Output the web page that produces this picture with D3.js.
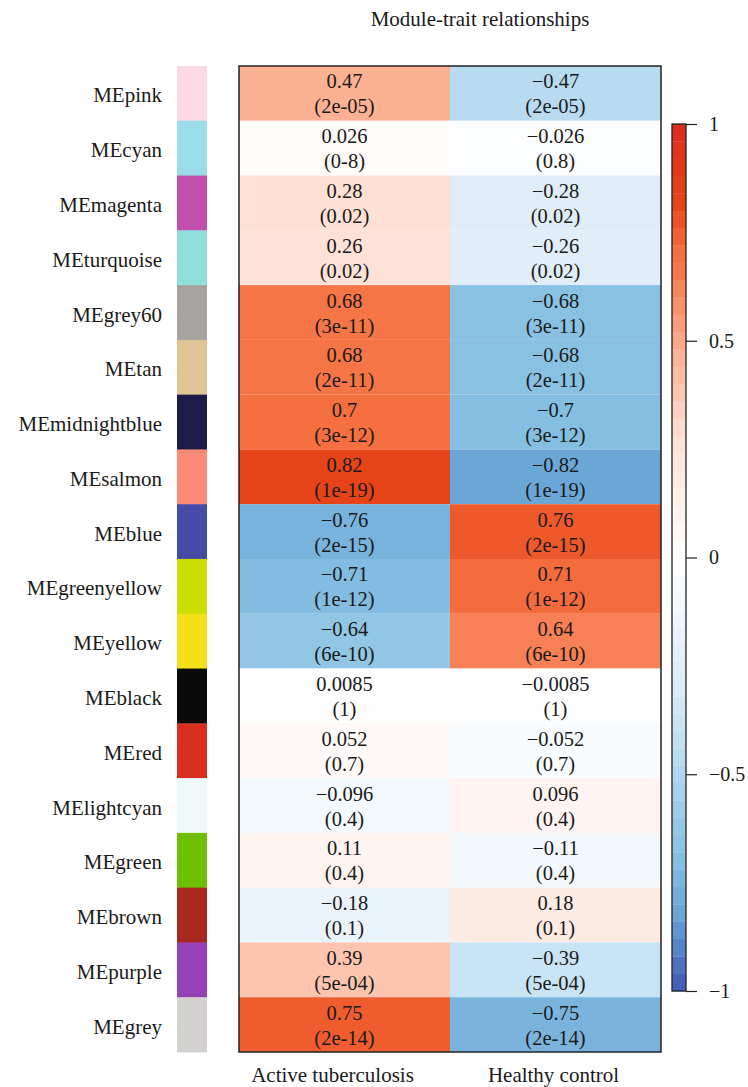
<!DOCTYPE html>
<html>
<head>
<meta charset="utf-8">
<script src="https://cdn.jsdelivr.net/npm/d3@7"></script>
<style>
  html, body { margin: 0; padding: 0; background: #fff; }
  svg { display: block; }
</style>
</head>
<body>
<svg id="chart" width="748" height="1087"></svg>
<script>
// ---------- data ----------
const modules = ["MEpink","MEcyan","MEmagenta","MEturquoise","MEgrey60","MEtan","MEmidnightblue","MEsalmon","MEblue","MEgreenyellow","MEyellow","MEblack","MEred","MElightcyan","MEgreen","MEbrown","MEpurple","MEgrey"];
const moduleColors = ["#FDD8E5","#9BDEEA","#C34FAC","#8FE0DC","#A7A3A0","#E2C595","#1D1B4A","#FB8A76","#474CA6","#CCDD00","#F4E01A","#0A0A0A","#D92D1F","#F0F9F9","#6DBF00","#A8271E","#9640B7","#D2D1CF"];
const traits = ["Active tuberculosis","Healthy control"];
const corActive  = [0.47, 0.026, 0.28, 0.26, 0.68, 0.68, 0.7, 0.82, -0.76, -0.71, -0.64, 0.0085, 0.052, -0.096, 0.11, -0.18, 0.39, 0.75];
const corHealthy = [-0.47, -0.026, -0.28, -0.26, -0.68, -0.68, -0.7, -0.82, 0.76, 0.71, 0.64, -0.0085, -0.052, 0.096, -0.11, 0.18, -0.39, -0.75];
const pActive  = ["2e-05","0-8","0.02","0.02","3e-11","2e-11","3e-12","1e-19","2e-15","1e-12","6e-10","1","0.7","0.4","0.4","0.1","5e-04","2e-14"];
const pHealthy = ["2e-05","0.8","0.02","0.02","3e-11","2e-11","3e-12","1e-19","2e-15","1e-12","6e-10","1","0.7","0.4","0.4","0.1","5e-04","2e-14"];
const legendTicks = [1, 0.5, 0, -0.5, -1];
const title = "Module-trait relationships";

// ---------- colour scale (blue-white-red) ----------
const colorStops = d3.scaleLinear()
  .domain([-1, -0.82, -0.7, -0.47, -0.28, 0, 0.28, 0.47, 0.7, 0.82, 1])
  .range(["#3F58B5","#6BA7D6","#84BEE1","#B8DBF0","#DEEDF8","#FFFFFF","#FEE0D5","#FDB193","#F56F40","#E64418","#DC2A1C"])
  .interpolate(d3.interpolateRgb)
  .clamp(true);
const nSteps = 50;
const binCenter = i => -1 + (i + 0.5) * 2 / nSteps;

// ---------- layout ----------
const svg = d3.select("#chart");
const FONT = "Liberation Serif";
const INK = "#1a1a1a";
const x = d3.scaleBand().domain(traits).range([239, 661]);
const y = d3.scaleBand().domain(modules).range([66, 1052]);

const cells = [];
modules.forEach((m, i) => {
  cells.push({m, t: traits[0], v: corActive[i], p: pActive[i]});
  cells.push({m, t: traits[1], v: corHealthy[i], p: pHealthy[i]});
});

const fmt = v => (v < 0 ? "\u2212" + String(Math.abs(v)) : String(v));
const serif = sel => sel.style("font-family", FONT).attr("fill", INK);

// heatmap cells
svg.append("g").selectAll("rect").data(cells).join("rect")
  .attr("x", d => x(d.t)).attr("y", d => y(d.m))
  .attr("width", x.bandwidth()).attr("height", y.bandwidth())
  .attr("fill", d => colorStops(d.v));

// cell text
const tg = svg.append("g");
tg.selectAll("text.v").data(cells).join("text").attr("class", "v")
  .attr("x", d => x(d.t) + x.bandwidth() / 2)
  .attr("y", d => y(d.m) + y.bandwidth() / 2 - 5)
  .attr("text-anchor", "middle").attr("font-size", 20.5)
  .call(serif)
  .text(d => fmt(d.v));
tg.selectAll("text.p").data(cells).join("text").attr("class", "p")
  .attr("x", d => x(d.t) + x.bandwidth() / 2)
  .attr("y", d => y(d.m) + y.bandwidth() / 2 + 20)
  .attr("text-anchor", "middle").attr("font-size", 20.5)
  .call(serif)
  .text(d => "(" + d.p + ")");

// heatmap border
svg.append("rect")
  .attr("x", x.range()[0]).attr("y", y.range()[0])
  .attr("width", x.range()[1] - x.range()[0]).attr("height", y.range()[1] - y.range()[0])
  .attr("fill", "none").attr("stroke", "#222").attr("stroke-width", 1.5);

// module colour swatches
svg.append("g").selectAll("rect").data(modules).join("rect")
  .attr("x", 177).attr("y", d => y(d))
  .attr("width", 30).attr("height", y.bandwidth() + 0.5)
  .attr("fill", (d, i) => moduleColors[i]);

// row labels
svg.append("g").selectAll("text").data(modules).join("text")
  .attr("x", 162).attr("y", d => y(d) + y.bandwidth() / 2 + 9)
  .attr("text-anchor", "end").attr("font-size", 21)
  .call(serif)
  .text(d => d);

// column labels
svg.append("g").selectAll("text").data(traits).join("text")
  .attr("x", (d, i) => x(d) + x.bandwidth() / 2 + (i === 0 ? -12 : -2))
  .attr("y", 1082)
  .attr("text-anchor", "middle").attr("font-size", 21)
  .call(serif)
  .text(d => d);

// title
svg.append("text").attr("x", 480).attr("y", 26).attr("text-anchor", "middle")
  .attr("font-size", 21).call(serif).text(title);

// ---------- legend colour bar ----------
const ly = d3.scaleLinear().domain([-1, 1]).range([991, 124]);
const lg = svg.append("g");
const bins = d3.range(nSteps);
lg.selectAll("rect").data(bins).join("rect")
  .attr("x", 672).attr("width", 14)
  .attr("y", i => ly(-1 + (i + 1) * 2 / nSteps))
  .attr("height", i => ly(-1 + i * 2 / nSteps) - ly(-1 + (i + 1) * 2 / nSteps) + 0.3)
  .attr("fill", i => colorStops(binCenter(i)));
lg.append("rect").attr("x", 672).attr("y", 124).attr("width", 14).attr("height", 867)
  .attr("fill", "none").attr("stroke", "#222").attr("stroke-width", 1.3);
const axis = d3.axisRight(ly).tickValues(legendTicks).tickSize(11).tickPadding(12)
  .tickFormat(d => d < 0 ? "\u2212" + Math.abs(d) : String(d));
const ag = lg.append("g").attr("transform", "translate(686,0)").call(axis);
ag.select(".domain").remove();
ag.selectAll(".tick line").attr("stroke", "#222").attr("stroke-width", 1.2);
ag.selectAll(".tick text").attr("font-size", 20).call(serif);
</script>
</body>
</html>
